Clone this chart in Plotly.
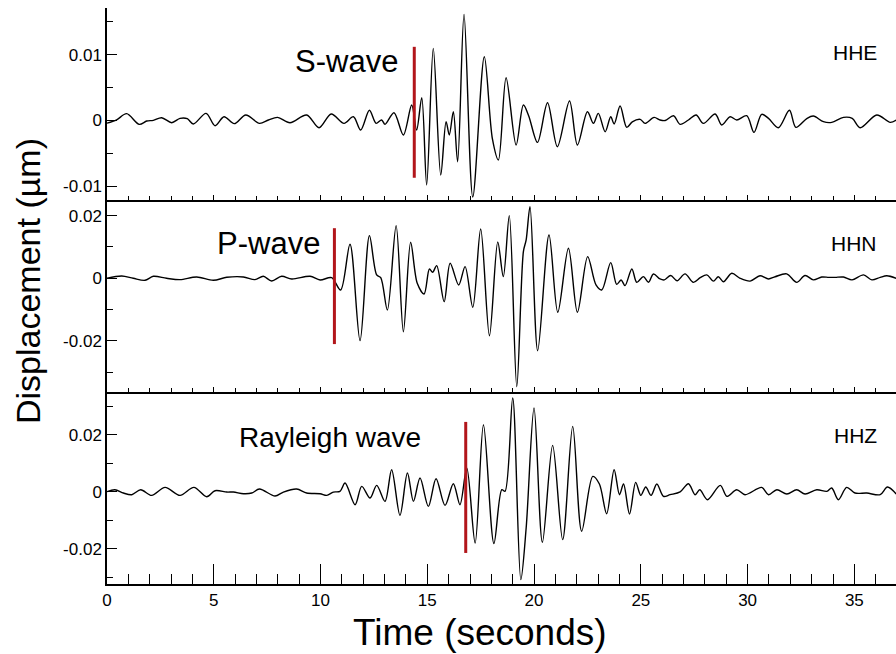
import plotly.graph_objects as go

# ---------------- data ----------------
channels = ["HHE", "HHN", "HHZ"]
phase_labels = ["S-wave", "P-wave", "Rayleigh wave"]
phase_times = [14.39, 10.65, 16.80]

time_hhe = [0.0, 0.45, 0.92, 1.51, 1.86, 2.17, 2.56, 3.03, 3.42, 3.76, 4.04, 4.64, 5.06, 5.48, 5.96,
            6.50, 7.14, 7.56, 7.99, 8.57, 9.35, 9.93, 10.50, 11.10, 11.54, 11.88, 12.29, 12.60, 12.86,
            13.02, 13.44, 13.88, 14.27, 14.50, 14.74, 14.97, 15.28, 15.63, 15.88, 16.03, 16.22, 16.42,
            16.72, 17.13, 17.67, 18.05, 18.33, 18.69, 19.16, 19.50, 19.75, 20.16, 20.63, 21.09, 21.66,
            22.03, 22.50, 22.78, 23.01, 23.33, 23.59, 23.75, 24.03, 24.34, 24.60, 24.97, 25.20, 25.62,
            25.90, 26.14, 26.53, 26.84, 27.23, 27.59, 27.93, 28.48, 28.79, 29.18, 29.49, 29.96, 30.30,
            30.66, 30.98, 31.44, 31.96, 32.26, 32.77, 33.08, 33.55, 33.94, 34.49, 34.90, 35.27, 36.05,
            36.68, 36.96]
disp_hhe = [-0.0004, 0.0001, 0.00104, -0.00058, -0.00008, 0.00003, 0.00043, -0.00033, 0.00033,
            0.00028, -0.00053, 0.00109, -0.00079, 0.00058, -0.00048, 0.00084, -0.00043, 0.00008,
            0.00048, -0.00033, 0.00084, -0.00109, 0.001, -0.00043, 0.00058, -0.00144, 0.00155,
            -0.00043, 0.00008, -0.00058, 0.00119, -0.0022, 0.00236, -0.00144, 0.00347, -0.0098,
            0.01097, -0.00828, -0.00018, -0.0022, 0.00134, -0.00626, 0.01613, -0.01163, 0.0097,
            -0.0028, -0.006, 0.00651, -0.00372, 0.00236, 0.0007, -0.00332, 0.00271, -0.00398,
            0.00296, -0.00372, 0.00134, -0.00043, 0.00109, -0.0017, 0.00058, -0.00053, 0.0022,
            -0.00104, -0.0002, 0.00018, -0.00043, 0.00048, 0.00008, 0.0, 0.00073, -0.00058, 0.00008,
            0.00084, -0.00043, 0.00099, -0.00068, 0.00058, 0.00008, 0.00073, -0.0018, 0.00094,
            0.00033, -0.00109, 0.00155, -0.00104, 0.0003, 0.00068, -0.00018, -0.00028, 0.00048,
            0.00033, -0.00109, 0.00084, -0.00028, 0.00008]

time_hhn = [0.0, 0.69, 1.23, 1.78, 2.17, 2.79, 3.42, 4.20, 4.98, 5.61, 6.39, 6.93, 7.32, 7.71, 8.18,
            8.65, 9.51, 9.98, 10.52, 10.94, 11.38, 11.85, 12.29, 12.63, 12.82, 13.13, 13.54, 13.88,
            14.22, 14.53, 14.85, 15.10, 15.25, 15.44, 15.79, 16.07, 16.47, 16.77, 17.13, 17.50, 17.91,
            18.30, 18.56, 18.84, 19.19, 19.50, 19.63, 19.81, 20.17, 20.70, 21.11, 21.61, 22.03, 22.51,
            22.90, 23.17, 23.59, 23.87, 24.08, 24.26, 24.58, 24.81, 25.12, 25.36, 25.59, 25.90, 26.10,
            26.40, 26.70, 27.07, 27.46, 27.78, 28.09, 28.40, 28.63, 28.87, 29.26, 29.65, 30.12, 30.58,
            30.98, 31.29, 31.83, 32.30, 32.69, 33.08, 33.47, 33.80, 34.10, 34.49, 34.89, 35.43, 35.82,
            36.21, 36.52, 36.96]
disp_hhn = [0.0, 0.00075, 0.0, -0.00064, 0.00064, 0.0, -0.00043, 0.00043, -0.00064, 0.00032, 0.00043,
            -0.00043, 0.00064, -0.00085, 0.00064, -0.00021, 0.00064, -0.00053, 0.0002, -0.00373,
            0.01086, -0.01991, 0.01363, 0.00106, 0.00021, -0.01012, 0.01683, -0.01704, 0.0115,
            -0.0016, -0.005, 0.00298, 0.00192, 0.00405, -0.00745, 0.00479, -0.00213, 0.00373,
            -0.00927, 0.01576, -0.01832, 0.0116, 0.00053, 0.02002, -0.03461, 0.00852, 0.01225,
            0.0229, -0.02311, 0.01384, -0.01086, 0.00958, -0.01086, 0.00692, -0.00213, -0.00373,
            0.005, -0.00192, -0.00053, -0.00234, 0.00298, -0.00128, 0.00053, -0.00128, 0.00138,
            -0.00021, -0.0005, 0.0009, -0.0008, 0.0014, -0.0013, 0.0002, 0.0011, -0.0009, 0.0005,
            -0.0011, 0.0016, 0.0, -0.0009, 0.0008, -0.0002, 0.0005, 0.0014, -0.0013, 0.0009, -0.0005,
            0.0004, 0.0003, 0.0003, 0.0004, -0.0005, 0.0011, -0.0005, 0.0003, 0.0008, 0.0]

time_hhz = [0.0, 0.37, 0.77, 1.16, 1.58, 2.09, 2.72, 3.42, 4.07, 4.67, 5.06, 5.61, 5.92, 6.39, 6.78,
            7.14, 7.87, 8.26, 8.88, 9.35, 9.98, 10.29, 10.60, 10.91, 11.15, 11.62, 11.93, 12.32, 12.63,
            13.02, 13.33, 13.72, 14.07, 14.35, 14.66, 15.05, 15.41, 15.83, 16.22, 16.53, 16.85, 17.24,
            17.63, 18.12, 18.49, 18.64, 19.00, 19.38, 19.63, 20.00, 20.39, 20.87, 21.34, 21.81, 22.23,
            22.75, 23.06, 23.40, 23.75, 24.00, 24.19, 24.47, 24.76, 25.00, 25.23, 25.48, 25.75, 26.06,
            26.37, 26.84, 27.23, 27.54, 27.76, 28.12, 28.72, 29.03, 29.49, 29.88, 30.66, 30.98, 31.37,
            31.84, 32.30, 32.69, 33.24, 33.71, 33.94, 34.25, 34.64, 35.03, 35.58, 36.21, 36.55, 36.96]
disp_hhz = [0.0, 0.0007, -0.00047, -0.00105, 0.0007, -0.00129, 0.00152, -0.00129, 0.00152, -0.00175,
            0.00035, -0.00012, -0.00012, -0.0007, -0.00047, 0.00094, -0.00152, -0.00012, 0.00094,
            -0.00047, -0.0007, -0.00129, -0.00012, 0.00012, 0.00304, -0.00456, 0.00187, -0.00222,
            0.00222, -0.00339, 0.00772, -0.0083, 0.00655, -0.00339, 0.0048, -0.00515, 0.00456,
            -0.0048, 0.00281, -0.00456, 0.0083, -0.01801, 0.02351, -0.0182, 0.0007, 0.00012, 0.03287,
            -0.03088, -0.01275, 0.02936, -0.01778, 0.01626, -0.01684, 0.02292, -0.01386, 0.00538,
            0.00269, -0.00772, 0.00772, -0.00105, 0.00269, -0.00784, 0.00327, -0.00129, 0.00164,
            -0.00129, 0.00269, -0.00164, -0.00105, -0.00007, 0.00281, -0.00105, 0.0007, -0.00281,
            0.00222, -0.00164, 0.0007, -0.00105, 0.00152, -0.00105, 0.0007, -0.00082, 0.0007,
            -0.00082, 0.0007, 0.00012, 0.00129, -0.00281, 0.00152, -0.00047, -0.00047, -0.00105,
            0.00164, -0.00082]

x_major = [0, 5, 10, 15, 20, 25, 30, 35]
x_labels = ["0", "5", "10", "15", "20", "25", "30", "35"]
y_ticks_hhe = [-0.01, 0, 0.01]
y_labels_hhe = ["-0.01", "0", "0.01"]
y_ticks_big = [-0.02, 0, 0.02]
y_labels_big = ["-0.02", "0", "0.02"]

# ---------------- layout configuration ----------------
FONT = "Liberation Sans, Helvetica, Arial, sans-serif"
X_RANGE = [0, 36.95]
panels = [
    dict(t=time_hhe, d=disp_hhe, yr=[-0.01208, 0.0171], tv=y_ticks_hhe, tt=y_labels_hhe, minor=0.005,
         dom=[2 / 3, 1], bar=[-0.0087, 0.0112], lab=(13.72, 0.0090), lab_size=31, chan_y=0.0104),
    dict(t=time_hhn, d=disp_hhn, yr=[-0.0363, 0.0250], tv=y_ticks_big, tt=y_labels_big, minor=0.01,
         dom=[1 / 3, 2 / 3], bar=[-0.0210, 0.0160], lab=(10.07, 0.0110), lab_size=31, chan_y=0.0110),
    dict(t=time_hhz, d=disp_hhz, yr=[-0.0324, 0.0350], tv=y_ticks_big, tt=y_labels_big, minor=0.01,
         dom=[0, 1 / 3], bar=[-0.0215, 0.0245], lab=(14.80, 0.0189), lab_size=28, chan_y=0.0199),
]

fig = go.Figure()
layout = dict(
    width=896, height=654,
    margin=dict(l=107, r=0, t=8, b=70),
    paper_bgcolor="white", plot_bgcolor="white",
    showlegend=False,
    font=dict(family=FONT, color="black"),
)
shapes = []
annotations = []
LINE_W = 1.5
for i, p in enumerate(panels):
    n = i + 1
    xa = "x" if n == 1 else f"x{n}"
    ya = "y" if n == 1 else f"y{n}"
    fig.add_trace(go.Scatter(x=p["t"], y=p["d"], mode="lines", xaxis=xa, yaxis=ya,
                             line=dict(color="black", width=1.4, shape="spline", smoothing=0.9),
                             hoverinfo="skip"))
    last = (n == 3)
    layout[f"xaxis{n if n > 1 else ''}"] = dict(
        domain=[0, 1], anchor=ya, range=X_RANGE, showgrid=False, zeroline=False,
        showline=True, linecolor="black", linewidth=LINE_W,
        ticks="inside", tickmode="array", tickvals=x_major, ticktext=x_labels,
        ticklen=20 if last else 5, tickwidth=1.3, tickcolor="black",
        showticklabels=last, tickfont=dict(size=17, family=FONT),
        minor=dict(ticks="inside", tickmode="linear", tick0=0, dtick=1,
                   ticklen=10 if last else 4, tickwidth=1.3, tickcolor="black", showgrid=False),
    )
    layout[f"xaxis{n + 3}"] = dict(
        overlaying=xa, side="top", anchor=ya, range=X_RANGE, showgrid=False, zeroline=False,
        showline=True, linecolor="black", linewidth=LINE_W,
        ticks="inside", tickmode="array", tickvals=x_major, ticklen=20, tickwidth=1.3,
        tickcolor="black", showticklabels=False,
        minor=dict(ticks="inside", tickmode="linear", tick0=0, dtick=1, ticklen=10,
                   tickwidth=1.3, tickcolor="black", showgrid=False),
    )
    layout[f"yaxis{n if n > 1 else ''}"] = dict(
        domain=p["dom"], anchor=xa, range=p["yr"], showgrid=False, zeroline=False,
        showline=True, linecolor="black", linewidth=LINE_W,
        ticks="inside", tickmode="array", tickvals=p["tv"], ticktext=p["tt"],
        ticklen=10, tickwidth=1.3, tickcolor="black",
        tickfont=dict(size=17, family=FONT),
        minor=dict(ticks="inside", tickmode="linear", tick0=0, dtick=p["minor"], ticklen=6,
                   tickwidth=1.3, tickcolor="black", showgrid=False),
    )
    layout[f"yaxis{n + 3}"] = dict(
        overlaying=ya, side="right", anchor=xa, range=p["yr"], showgrid=False, zeroline=False,
        showline=False, ticks="inside", tickmode="array", tickvals=p["tv"], ticklen=6,
        tickwidth=1.3, tickcolor="black", showticklabels=False,
        minor=dict(ticks="inside", tickmode="linear", tick0=0, dtick=p["minor"], ticklen=2,
                   tickwidth=1.3, tickcolor="black", showgrid=False),
    )
    shapes.append(dict(type="line", xref=xa, yref=ya, x0=phase_times[i], x1=phase_times[i],
                       y0=p["bar"][0], y1=p["bar"][1], line=dict(color="#b2161b", width=3)))
    annotations.append(dict(text=phase_labels[i], xref=xa, yref=ya, x=p["lab"][0], y=p["lab"][1],
                            xanchor="right", yanchor="middle", showarrow=False,
                            font=dict(size=p["lab_size"], family=FONT, color="black")))
    annotations.append(dict(text=channels[i], xref=xa, yref=ya, x=36.16, y=p["chan_y"],
                            xanchor="right", yanchor="middle", showarrow=False,
                            font=dict(size=21, family=FONT, color="black")))

annotations.append(dict(text="Displacement (µm)", xref="paper", yref="paper", x=0, y=0.526,
                        xshift=-79, xanchor="center", yanchor="middle", textangle=-90,
                        showarrow=False, font=dict(size=34, family=FONT, color="black")))
annotations.append(dict(text="Time (seconds)", xref="paper", yref="paper", x=0.4727, y=0,
                        yshift=-48, xanchor="center", yanchor="middle",
                        showarrow=False, font=dict(size=37, family=FONT, color="black")))

layout["shapes"] = shapes
layout["annotations"] = annotations
fig.update_layout(**layout)
fig.write_html("out.html")
